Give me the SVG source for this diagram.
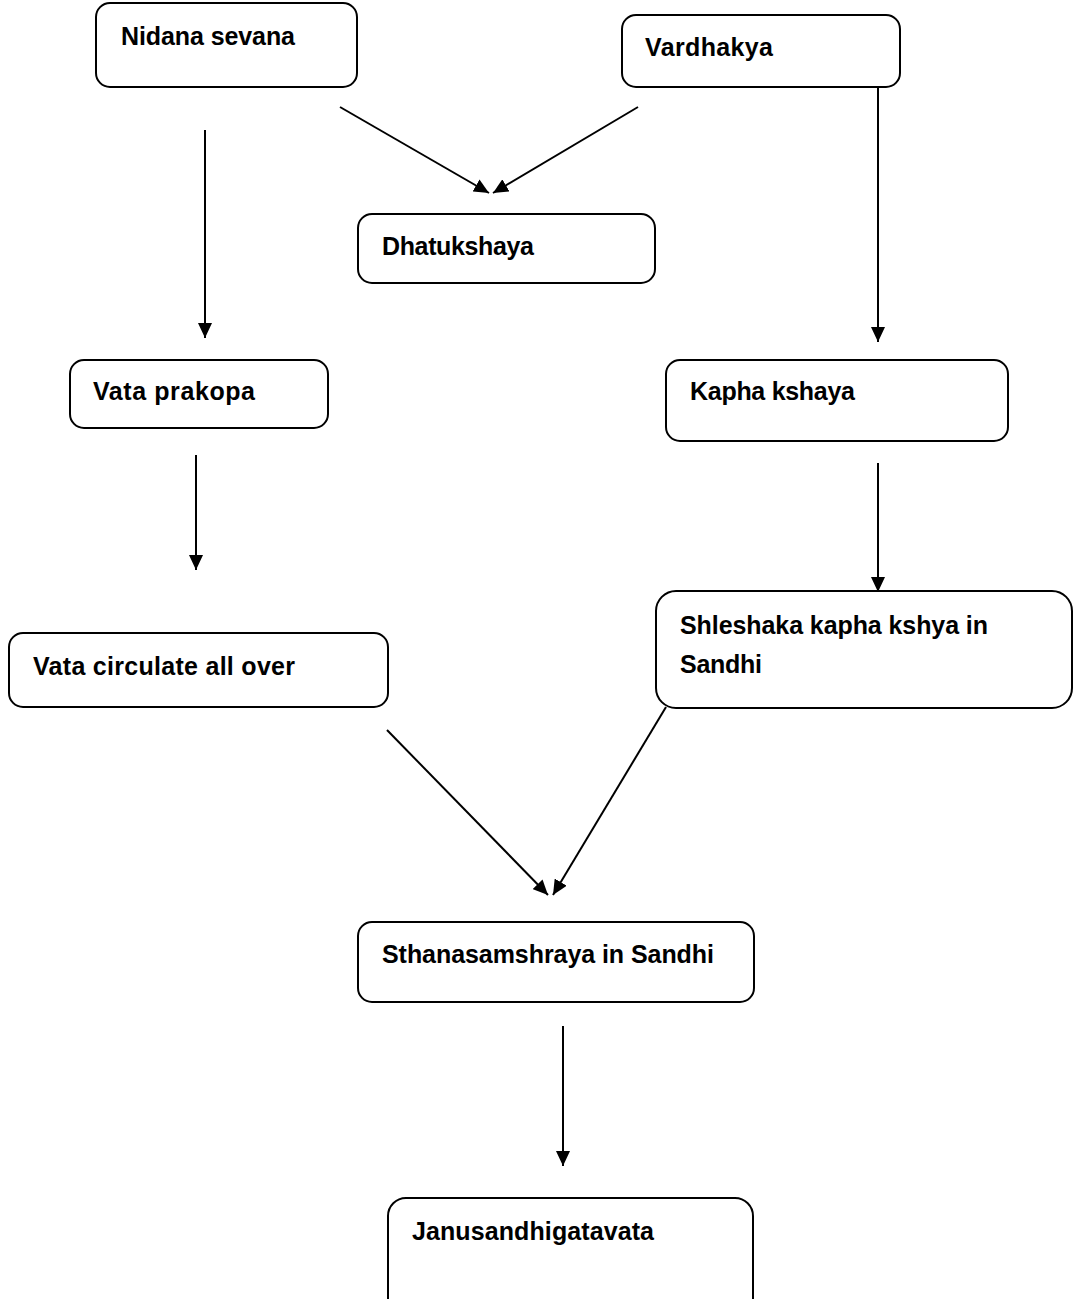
<svg xmlns="http://www.w3.org/2000/svg" width="1073" height="1299" viewBox="0 0 1073 1299">
<style>
.box{fill:#fff;stroke:#000;stroke-width:2}
.t{font-family:"Liberation Sans",Arial,sans-serif;font-weight:bold;font-size:25px;fill:#000}
.c{stroke:#000;stroke-width:2;fill:none;marker-end:url(#ah)}
</style>
<defs>
<marker id="ah" markerUnits="userSpaceOnUse" markerWidth="16" markerHeight="14" refX="15" refY="7" orient="auto">
<path d="M0,0 L15,7 L0,14 z" fill="#000"/>
</marker>
</defs>
<rect width="1073" height="1299" fill="#fff"/>
<g id="connectors">
<line class="c" x1="205" y1="130" x2="205" y2="338"/>
<line class="c" x1="340" y1="107" x2="489" y2="193"/>
<line class="c" x1="638" y1="107" x2="493" y2="193"/>
<line class="c" x1="878" y1="87" x2="878" y2="342"/>
<line class="c" x1="196" y1="455" x2="196" y2="570"/>
<line class="c" x1="878" y1="463" x2="878" y2="592"/>
<line class="c" x1="387" y1="730" x2="548" y2="895"/>
<line class="c" x1="666" y1="707" x2="553" y2="895"/>
<line class="c" x1="563" y1="1026" x2="563" y2="1166"/>
</g>
<g id="n1"><rect class="box" x="96" y="3" width="261" height="84" rx="14"/><text class="t" x="121" y="45" textLength="174">Nidana sevana</text></g>
<g id="n2"><rect class="box" x="622" y="15" width="278" height="72" rx="14"/><text class="t" x="645" y="56" textLength="128">Vardhakya</text></g>
<g id="n3"><rect class="box" x="358" y="214" width="297" height="69" rx="14"/><text class="t" x="382" y="255" textLength="152">Dhatukshaya</text></g>
<g id="n4"><rect class="box" x="70" y="360" width="258" height="68" rx="14"/><text class="t" x="93" y="400" textLength="162">Vata prakopa</text></g>
<g id="n5"><rect class="box" x="666" y="360" width="342" height="81" rx="14"/><text class="t" x="690" y="400" textLength="165">Kapha kshaya</text></g>
<g id="n6"><rect class="box" x="9" y="633" width="379" height="74" rx="14"/><text class="t" x="33" y="675" textLength="262">Vata circulate all over</text></g>
<g id="n7"><rect class="box" x="656" y="591" width="416" height="117" rx="20"/><text class="t" x="680" y="634" textLength="308">Shleshaka kapha kshya in</text><text class="t" x="680" y="673" textLength="82">Sandhi</text></g>
<g id="n8"><rect class="box" x="358" y="922" width="396" height="80" rx="14"/><text class="t" x="382" y="963" textLength="332">Sthanasamshraya in Sandhi</text></g>
<g id="n9"><rect class="box" x="388" y="1198" width="365" height="120" rx="18"/><text class="t" x="412" y="1240" textLength="242">Janusandhigatavata</text></g>
</svg>
